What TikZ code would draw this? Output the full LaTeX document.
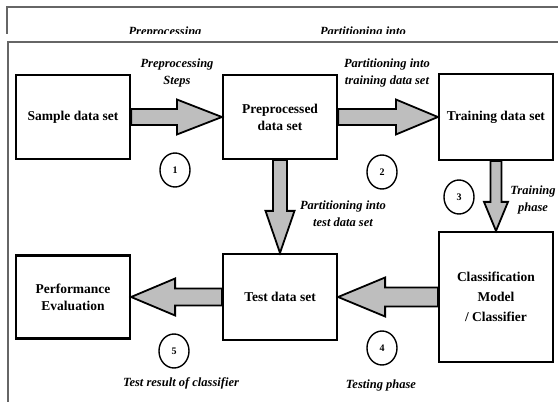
\documentclass[tikz,border=0pt]{standalone}
\usepackage{fontspec}
\setmainfont{Liberation Serif}
\usepackage{tikz}
\usetikzlibrary{calc,positioning,shapes.geometric}
\definecolor{arrowgray}{HTML}{BEBEBE}
\definecolor{framegray}{HTML}{666666}

% fat arrow: from, to, shaft half width, head half width, head length
\newcommand{\blockarrow}[5]{%
  \coordinate (hb) at ($(#2)!#5pt!(#1)$);
  \filldraw[fatarrow] ($(#1)!#3pt!90:(#2)$) -- ($(hb)!#3pt!90:(#2)$) -- ($(hb)!#4pt!90:(#2)$) -- (#2)
    -- ($(hb)!#4pt!-90:(#2)$) -- ($(hb)!#3pt!-90:(#2)$) -- ($(#1)!#3pt!-90:(#2)$) -- cycle;
}

\begin{document}
\begin{tikzpicture}[
    x=1pt, y=-1pt,
    box/.style={draw, line width=2.2pt, minimum width=114pt, minimum height=84pt, align=center,
      font=\fontsize{13.5}{17}\selectfont\bfseries},
    fatarrow/.style={draw=black, line width=1.8pt, fill=arrowgray},
    stepno/.style={draw, ellipse, line width=1.4pt, minimum width=30pt, minimum height=34pt, inner sep=0pt,
      font=\fontsize{10}{11}\selectfont\bfseries},
    lbl/.style={align=center, font=\fontsize{12.5}{17}\selectfont\bfseries\itshape},
    frame/.style={draw=framegray, line width=1.4pt}
]
    \useasboundingbox (0,0) rectangle (558,409);

    % Frame
    \draw[frame] (7,34) -- (7,7) -- (558,7);
    \draw[frame] (7,42) -- (558,42);
    \draw[frame] (8,42) -- (8,402);
    \begin{scope}
        \clip (0,0) rectangle (558,34);
        \node[lbl] (topa) at (165,32) {Preprocessing};
        \node[lbl] (topb) at (363,32) {Partitioning into};
    \end{scope}

    % Nodes
    \node[box] (sample) at (73,117) {Sample data set};
    \node[box] (prep) at (280,117) {Preprocessed\\data set};
    \node[box, minimum height=86pt] (train) at (496,117) {Training data set};
    \node[box, minimum height=130pt, font=\fontsize{13.5}{20}\selectfont\bfseries] (model) at (496,297) {Classification\\Model\\/ Classifier};
    \node[box, minimum height=86pt] (test) at (280,297) {Test data set};
    \node[box, minimum height=83pt] (perf) at (73,297) {Performance\\Evaluation};

    % Arrows
    \blockarrow{sample.east}{prep.west}{8}{17.5}{45}
    \blockarrow{prep.east}{train.west}{8}{17.5}{42}
    \blockarrow{prep.south}{test.north}{7}{14.5}{42}
    \blockarrow{train.south}{model.north}{5.5}{12}{29}
    \blockarrow{model.west}{test.east}{9.5}{19.5}{47}
    \blockarrow{test.west}{perf.east}{8.5}{18.5}{44}

    % Labels
    \node[lbl] (l1) at (177,73) {Preprocessing\\Steps};
    \node[lbl] (l2) at (387,73) {Partitioning into\\training data set};
    \node[lbl] (l3) at (343,214) {Partitioning into\\test data set};
    \node[lbl] (l4) at (533,200) {Training\\phase};
    \node[lbl] (l5) at (381,385) {Testing phase};
    \node[lbl] (l6) at (181,383) {Test result of classifier};

    % Step numbers
    \node[stepno] (n1) at (175,170) {1};
    \node[stepno] (n2) at (382,172) {2};
    \node[stepno] (n3) at (459,197) {3};
    \node[stepno] (n4) at (382,348) {4};
    \node[stepno] (n5) at (174,351) {5};
\end{tikzpicture}
\end{document}
